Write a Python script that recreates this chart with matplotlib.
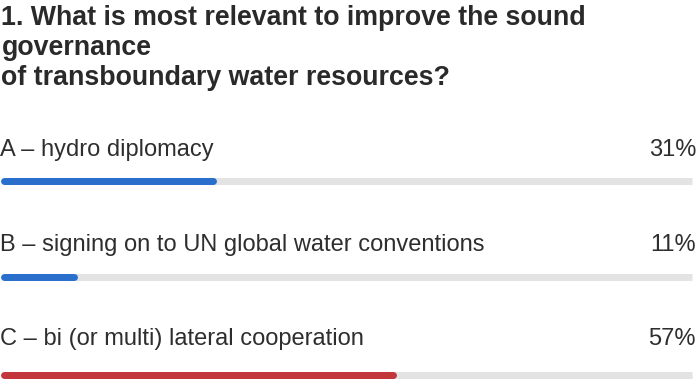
import matplotlib
matplotlib.use("Agg")
import matplotlib.pyplot as plt

title_lines = ["1. What is most relevant to improve the sound",
               "governance",
               "of transboundary water resources?"]
options = ["A \u2013 hydro diplomacy",
           "B \u2013 signing on to UN global water conventions",
           "C \u2013 bi (or multi) lateral cooperation"]
percents = [31, 11, 57]
bar_colors = ["#2b6fcd", "#2b6fcd", "#c2363c"]

W, H = 700, 380
fig = plt.figure(figsize=(W / 100, H / 100), dpi=100)
ax = fig.add_axes([0, 0, 1, 1])
track_right = 695
ax.set_xlim(0, 100 * W / track_right)
ax.set_ylim(H, 0)
ax.axis("off")

font = "Liberation Sans"
text_col = "#2e2e2e"

title_base = [25, 55, 85]
for line, yb in zip(title_lines, title_base):
    ax.text(0.2, yb, line, fontsize=19.3, fontweight="bold", family=font,
            color="#2a2a2a", va="baseline", ha="left")

label_base = [156, 251, 345]
bar_y = [181, 277, 375]
lw = 7 * 72 / 100  # 7 px
x_pct_right = 100 * (track_right + 1) / track_right
for lab, p, c, yb, by in zip(options, percents, bar_colors, label_base, bar_y):
    ax.text(0.0, yb, lab, fontsize=17, family=font, color=text_col,
            va="baseline", ha="left")
    ax.text(x_pct_right, yb, f"{p}%", fontsize=17, family=font, color=text_col,
            va="baseline", ha="right")
    ax.plot([0.6, 99.5], [by, by], color="#e3e3e3", lw=lw, solid_capstyle="butt")
    ax.plot([0.6, p - 0.4], [by, by], color=c, lw=lw, solid_capstyle="round")

fig.savefig("out.png", dpi=100, facecolor="white")
